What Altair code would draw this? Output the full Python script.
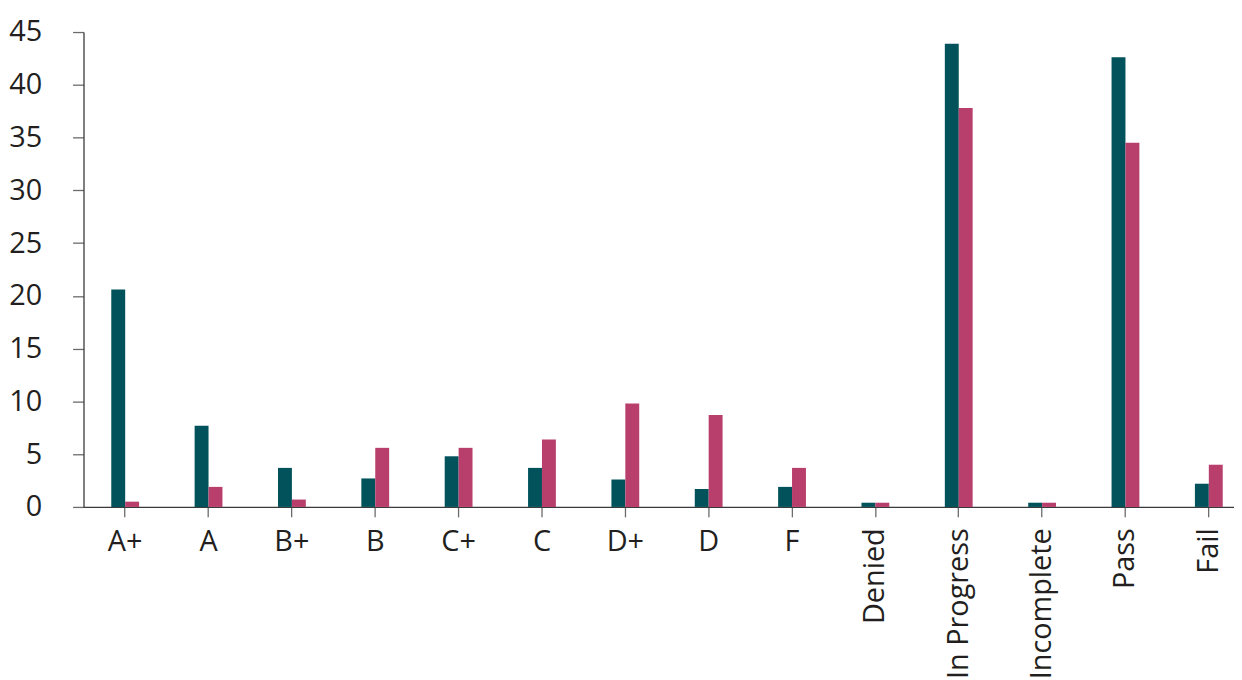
import altair as alt
import pandas as pd

categories = ["A+", "A", "B+", "B", "C+", "C", "D+", "D", "F",
              "Denied", "In Progress", "Incomplete", "Pass", "Fail"]
series_names = ["Series 1", "Series 2"]
series1 = [20.6, 7.7, 3.7, 2.7, 4.8, 3.7, 2.6, 1.7, 1.9, 0.4, 43.9, 0.4, 42.6, 2.2]
series2 = [0.5, 1.9, 0.7, 5.6, 5.6, 6.4, 9.8, 8.7, 3.7, 0.4, 37.8, 0.4, 34.5, 4.0]
colors = ["#02525C", "#B83E6C"]
y_ticks = [0, 5, 10, 15, 20, 25, 30, 35, 40, 45]
rotated = ["Denied", "In Progress", "Incomplete", "Pass", "Fail"]

rows = []
for c, a, b in zip(categories, series1, series2):
    rows.append({"category": c, "series": series_names[0], "value": a})
    rows.append({"category": c, "series": series_names[1], "value": b})
df = pd.DataFrame(rows)

rot_test = "indexof(" + str(rotated).replace('"', "'") + ", datum.value) >= 0"

FONT = "Open Sans"
TXT = "#231F20"
STEP = 83.9
FULL = STEP * len(categories)
PAD_IN = 1 - 28 / STEP

chart = alt.Chart(df).mark_bar().encode(
    x=alt.X(
        "category:N",
        sort=categories,
        scale=alt.Scale(paddingInner=PAD_IN, paddingOuter=PAD_IN / 2,
                        range=[0, FULL]),
        axis=alt.Axis(
            title=None,
            labelAngle=alt.ExprRef(rot_test + " ? 270 : 0"),
            labelAlign=alt.ExprRef(rot_test + " ? 'right' : 'center'"),
            labelBaseline=alt.ExprRef(rot_test + " ? 'middle' : 'top'"),
            labelPadding=11,
            tickSize=10,
            labelFont=FONT,
            labelFontSize=29,
            labelColor=TXT,
            labelOverlap=False,
            labelBound=False,
        ),
    ),
    xOffset=alt.XOffset(
        "series:N",
        sort=series_names,
        scale=alt.Scale(paddingInner=0, paddingOuter=0),
    ),
    y=alt.Y(
        "value:Q",
        scale=alt.Scale(domain=[0, 45], nice=False, zero=True),
        axis=alt.Axis(
            title=None,
            values=y_ticks,
            grid=False,
            tickSize=11,
            labelPadding=31,
            labelFont=FONT,
            labelFontSize=29,
            labelColor=TXT,
            labelOverlap=False,
        ),
    ),
    color=alt.Color(
        "series:N",
        scale=alt.Scale(domain=series_names, range=colors),
        legend=None,
    ),
).properties(
    width=1158,
    height=478,
    autosize=alt.AutoSizeParams(type="none"),
    padding={"left": 76, "top": 22, "right": 0, "bottom": 172},
    background="white",
).configure_view(
    stroke=None
).configure_axis(
    domainColor="#3A3A3A",
    domainWidth=1.3,
    tickColor="#6B6B6B",
    tickWidth=1.3,
)

chart.save("out.html", embed_options={"renderer": "svg", "actions": False})
